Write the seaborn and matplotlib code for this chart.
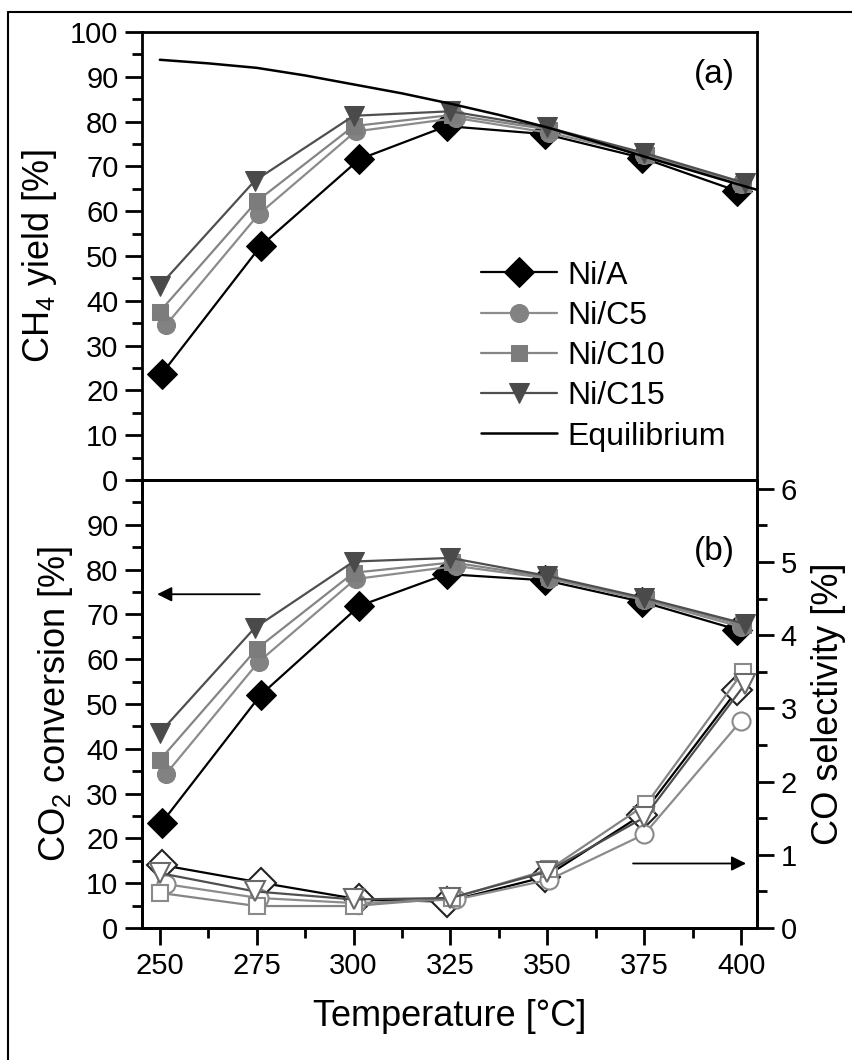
import matplotlib
matplotlib.use("Agg")
import matplotlib.pyplot as plt
import seaborn as sns
from matplotlib.ticker import MultipleLocator
from matplotlib.lines import Line2D

# reaction temperatures [°C] per catalyst (markers are slightly offset in the original)
t_nia = [250.5, 276.0, 301.5, 324.0, 349.5, 374.5, 399.0]
t_c5 = [251.5, 275.5, 300.5, 326.5, 350.5, 375.0, 400.0]
t_c10 = [250.0, 275.0, 300.0, 325.5, 350.5, 375.5, 400.5]
t_c15 = [250.0, 274.5, 300.0, 325.0, 350.0, 375.0, 401.0]

# (a) CH4 yield [%]
yield_nia = [23.7, 52.2, 71.6, 79.0, 77.2, 71.9, 64.5]
yield_c5 = [34.5, 59.3, 77.8, 80.8, 77.5, 72.6, 66.0]
yield_c10 = [37.6, 62.2, 79.0, 81.5, 78.2, 72.6, 66.0]
yield_c15 = [43.4, 66.8, 81.3, 82.3, 78.7, 73.0, 66.3]

# thermodynamic equilibrium curve
eq_temp = [250, 262.5, 275, 287.5, 300, 312.5, 325, 337.5, 350, 362.5, 375, 387.5, 400, 404]
eq_yield = [93.8, 93.0, 92.0, 90.3, 88.3, 86.3, 84.0, 81.5, 78.7, 75.5, 72.2, 69.0, 65.8, 64.8]

# (b) CO2 conversion [%]
conv_nia = [23.5, 52.0, 71.9, 79.0, 77.6, 72.8, 66.6]
conv_c5 = [34.3, 59.4, 77.9, 80.8, 78.0, 73.2, 67.2]
conv_c10 = [37.5, 62.3, 79.3, 81.6, 78.3, 73.4, 67.6]
conv_c15 = [43.6, 67.0, 81.8, 82.6, 78.6, 73.7, 67.9]

# (b) CO selectivity [%] (right axis)
sel_nia = [0.86, 0.62, 0.39, 0.36, 0.70, 1.55, 3.25]
sel_c5 = [0.60, 0.41, 0.34, 0.39, 0.66, 1.28, 2.83]
sel_c10 = [0.48, 0.30, 0.30, 0.41, 0.80, 1.69, 3.50]
sel_c15 = [0.75, 0.50, 0.39, 0.41, 0.77, 1.51, 3.33]

labels = ["Ni/A", "Ni/C5", "Ni/C10", "Ni/C15"]
temps = [t_nia, t_c5, t_c10, t_c15]
yields = [yield_nia, yield_c5, yield_c10, yield_c15]
convs = [conv_nia, conv_c5, conv_c10, conv_c15]
sels = [sel_nia, sel_c5, sel_c10, sel_c15]

# styles
markers = ["D", "o", "s", "v"]
msizes = [15, 13, 12, 15]
fills = ["black", "#828282", "#7c7c7c", "#4a4a4a"]
lcolors = ["black", "#8c8c8c", "#858585", "#4f4f4f"]
open_edges = ["#222222", "#8a8a8a", "#8a8a8a", "#6a6a6a"]

sns.set_style("ticks")
plt.rcParams["font.family"] = ["Liberation Sans", "DejaVu Sans"]
plt.rcParams["mathtext.default"] = "regular"
for k in ["axes.edgecolor", "xtick.color", "ytick.color", "text.color", "axes.labelcolor"]:
    plt.rcParams[k] = "black"

fig = plt.figure(figsize=(8.53, 10.6), dpi=100)
W, H = 853, 1060
left, right = 142 / W, 757 / W
y_top, y_mid, y_bot = 32, 480, 928
ax1 = fig.add_axes([left, 1 - y_mid / H, right - left, (y_mid - y_top) / H])
ax2 = fig.add_axes([left, 1 - y_bot / H, right - left, (y_bot - y_mid) / H])
ax3 = ax2.twinx()

# outer frame of the original figure
fig.add_artist(Line2D([8 / W, 8 / W], [0, 1 - 12 / H], transform=fig.transFigure, color="black", lw=1.5))
fig.add_artist(Line2D([8 / W, 1], [1 - 12 / H, 1 - 12 / H], transform=fig.transFigure, color="black", lw=1.5))

# panel (a)
for i in range(4):
    sns.lineplot(x=temps[i], y=yields[i], ax=ax1, color=lcolors[i], lw=1.6,
                 marker=markers[i], markersize=msizes[i], markerfacecolor=fills[i],
                 markeredgecolor=fills[i], label=labels[i], zorder=3 + i)
sns.lineplot(x=eq_temp, y=eq_yield, ax=ax1, color="black", lw=1.8, label="Equilibrium", zorder=10)

# panel (b)
for i in range(4):
    sns.lineplot(x=temps[i], y=convs[i], ax=ax2, color=lcolors[i], lw=1.6,
                 marker=markers[i], markersize=msizes[i], markerfacecolor=fills[i],
                 markeredgecolor=fills[i], zorder=3 + i)
    sns.lineplot(x=temps[i], y=sels[i], ax=ax3, color=lcolors[i], lw=1.6,
                 marker=markers[i], markersize=msizes[i], markerfacecolor="white",
                 markeredgecolor=open_edges[i], markeredgewidth=1.5, zorder=3 + i)

xlim = (245.4, 404.1)
for ax in (ax1, ax2):
    ax.set_xlim(*xlim)
    ax.set_ylim(0, 100)
    ax.xaxis.set_major_locator(MultipleLocator(25))
    ax.xaxis.set_minor_locator(MultipleLocator(12.5))
    ax.yaxis.set_minor_locator(MultipleLocator(5))
    for s in ax.spines.values():
        s.set_linewidth(2.0)
        s.set_visible(True)
    ax.tick_params(which="major", length=12, width=2.0, direction="out", labelsize=21, pad=5)
    ax.tick_params(which="minor", length=7, width=2.0, direction="out")
    ax.tick_params(axis="y", which="both", right=False)
    ax.tick_params(axis="x", which="both", top=False)

ax1.set_yticks(range(0, 101, 10))
ax1.tick_params(axis="x", which="both", labelbottom=False)
ax2.set_yticks(range(0, 91, 10))

ax3.set_ylim(0, 6.12)
ax3.set_yticks(range(0, 7))
ax3.yaxis.set_minor_locator(MultipleLocator(0.5))
ax3.tick_params(which="major", length=12, width=2.0, direction="out", labelsize=21, pad=5)
ax3.tick_params(which="minor", length=7, width=2.0, direction="out")
for s in ax3.spines.values():
    s.set_linewidth(2.0)

ax1.set_ylabel("CH$_4$ yield [%]", fontsize=26, labelpad=8)
ax2.set_ylabel("CO$_2$ conversion [%]", fontsize=26, labelpad=8)
ax3.set_ylabel("CO selectivity [%]", fontsize=26, labelpad=10)
ax2.set_xlabel("Temperature [°C]", fontsize=26, labelpad=14)

ax1.text(0.93, 0.905, "(a)", transform=ax1.transAxes, fontsize=24, ha="center", va="center")
ax2.text(0.93, 0.84, "(b)", transform=ax2.transAxes, fontsize=24, ha="center", va="center")

# arrows pointing to the relevant axis
ax2.annotate("", xy=(248.6, 74.5), xytext=(276.5, 74.5),
             arrowprops=dict(arrowstyle="-|>", color="black", lw=1.3, mutation_scale=22))
ax2.annotate("", xy=(402.0, 14.4), xytext=(371.4, 14.4),
             arrowprops=dict(arrowstyle="-|>", color="black", lw=1.3, mutation_scale=22))

leg = ax1.legend(loc="lower left", bbox_to_anchor=(0.53, 0.035), frameon=False, fontsize=23,
                 handlelength=2.4, handletextpad=0.3, labelspacing=0.32, borderaxespad=0)

fig.savefig("out.png", dpi=100)
